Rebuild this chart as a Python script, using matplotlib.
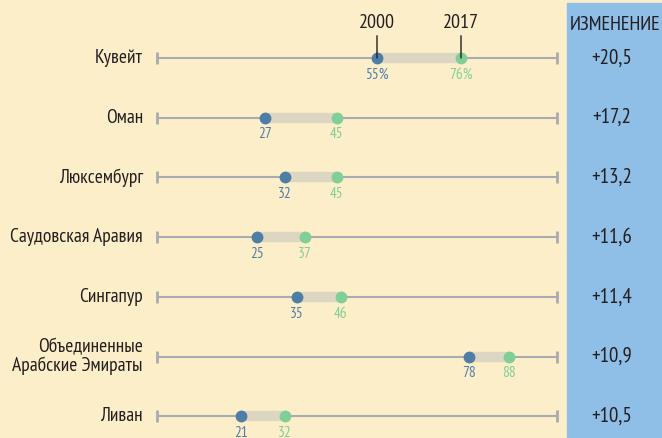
import matplotlib
matplotlib.use('Agg')
import matplotlib.pyplot as plt
from matplotlib.patches import Rectangle

# данные
countries = ['Кувейт', 'Оман', 'Люксембург', 'Саудовская Аравия', 'Сингапур',
             'Объединенные\nАрабские Эмираты', 'Ливан']
val_2000 = [55, 27, 32, 25, 35, 78, 21]
val_2017 = [76, 45, 45, 37, 46, 88, 32]
change = ['+20,5', '+17,2', '+13,2', '+11,6', '+11,4', '+10,9', '+10,5']
years = ['2000', '2017']

bg = '#fdeeca'
blue_panel = '#8fbfe6'
c2000 = '#4e7ea6'
c2017 = '#7fcf96'
band = '#ddd6c2'
line_c = '#a9abb2'
txt = '#231f20'

plt.rcParams['font.family'] = ['PT Sans Narrow', 'DejaVu Sans']

fig = plt.figure(figsize=(6.62, 4.38), dpi=100)
fig.patch.set_facecolor(bg)
ax = fig.add_axes([0, 0, 1, 1])
ax.set_facecolor(bg)
ax.axis('off')

# шкала 0..100 -> 157..557 px
ax.set_xlim(-157 / 4, (662 - 157) / 4)
row_h = 59.7
ax.set_ylim((438 - 58) / row_h, -58 / row_h)

ax.add_patch(Rectangle((567 / 662, 0), 95 / 662, 435 / 438,
                       transform=ax.transAxes, color=blue_panel, zorder=0))

for i, name in enumerate(countries):
    ax.plot([0, 100], [i, i], color=line_c, lw=1.5, zorder=1, solid_capstyle='butt')
    ax.plot([0, 100], [i, i], ls='none', marker='|', ms=9, mew=2, color=line_c, zorder=1)
    ax.plot([val_2000[i], val_2017[i]], [i, i], color=band, lw=7.5, zorder=2,
            solid_capstyle='butt')
    ax.plot(val_2000[i], i, 'o', ms=7.5, color=c2000, zorder=3)
    ax.plot(val_2017[i], i, 'o', ms=7.5, color=c2017, zorder=3)
    suf = '%' if i == 0 else ''
    ax.annotate(f'{val_2000[i]}{suf}', (val_2000[i], i), xytext=(0, -7),
                textcoords='offset points', ha='center', va='top',
                fontsize=11, color=c2000)
    ax.annotate(f'{val_2017[i]}{suf}', (val_2017[i], i), xytext=(0, -7),
                textcoords='offset points', ha='center', va='top',
                fontsize=11, color=c2017)
    ax.text(-3.5, i, name, ha='right', va='center', fontsize=14, color=txt,
            linespacing=1.03)
    ax.text(113.6, i, change[i], ha='center', va='center', fontsize=15, color=txt)

# подписи годов над первой строкой
for v, y in zip([val_2000[0], val_2017[0]], years):
    ax.annotate(y, (v, 0), xytext=(0, 19), textcoords='offset points',
                ha='center', va='bottom', fontsize=14.5, color=txt,
                arrowprops=dict(arrowstyle='-', color=txt, lw=1, shrinkA=1, shrinkB=0))

ax.text(114.5, 0 - 33 / row_h, 'ИЗМЕНЕНИЕ', ha='center', va='center',
        fontsize=14.5, color=txt)

fig.savefig('out.png', dpi=100, facecolor=bg)
